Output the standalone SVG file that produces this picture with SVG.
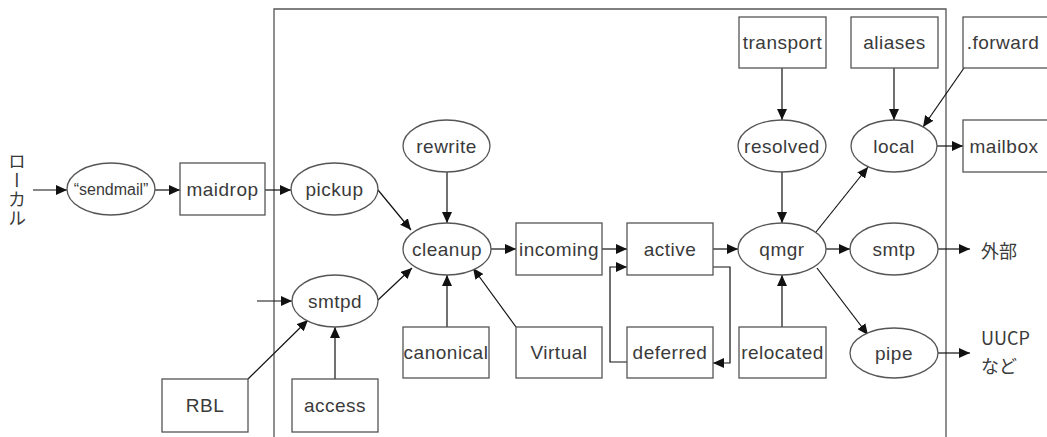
<svg xmlns="http://www.w3.org/2000/svg" width="1047" height="437" viewBox="0 0 1047 437">
<defs>
<marker id="ah" markerUnits="userSpaceOnUse" markerWidth="12" markerHeight="10" refX="11" refY="5" orient="auto">
<path d="M0,0 L11,5 L0,10 Z" fill="#111"/>
</marker>
<style>
.n rect,.n ellipse{fill:#fff;stroke:#555;stroke-width:1.3}
.t{font-family:"Liberation Sans",Arial,sans-serif;font-size:19px;fill:#3a3a3a;text-anchor:middle;letter-spacing:0.5px}
.s{font-size:16px;letter-spacing:0}
.j{font-family:"Noto Sans CJK JP",sans-serif;font-size:18px;fill:#3a3a3a}
#edges path,#edges line{stroke:#111;stroke-width:1.2;fill:none;marker-end:url(#ah)}
#frame{fill:none;stroke:#555;stroke-width:1.3}
</style>
</defs>
<rect width="1047" height="437" fill="#fff"/>
<path id="frame" d="M274,437 L274,9 L946,9 L946,437"/>

<g id="edges">
<line x1="33" y1="190" x2="67" y2="190"/>
<line x1="155" y1="190" x2="180" y2="190"/>
<line x1="265" y1="190" x2="291" y2="190"/>
<line x1="378" y1="190" x2="411" y2="230"/>
<line x1="447" y1="172" x2="447" y2="223"/>
<line x1="257" y1="301" x2="292" y2="301"/>
<line x1="378" y1="300" x2="412" y2="268"/>
<line x1="248" y1="379" x2="308" y2="320"/>
<line x1="335" y1="379" x2="335" y2="327"/>
<line x1="447" y1="327" x2="447" y2="275"/>
<line x1="516" y1="327" x2="473" y2="268"/>
<line x1="491" y1="249" x2="516" y2="249"/>
<line x1="602" y1="249" x2="627" y2="249"/>
<line x1="713" y1="249" x2="738" y2="249"/>
<path d="M713,267 L730,267 L730,363 L713,363"/>
<path d="M627,362 L610,362 L610,267 L627,267"/>
<line x1="782" y1="327" x2="782" y2="275"/>
<line x1="782" y1="68" x2="782" y2="120"/>
<line x1="782" y1="172" x2="782" y2="223"/>
<line x1="894" y1="68" x2="894" y2="120"/>
<line x1="964" y1="68" x2="923" y2="127"/>
<line x1="937" y1="146" x2="963" y2="146"/>
<line x1="816" y1="232" x2="868" y2="167"/>
<line x1="826" y1="249" x2="850" y2="249"/>
<line x1="817" y1="268" x2="868" y2="335"/>
<line x1="938" y1="249" x2="970" y2="249"/>
<line x1="938" y1="353" x2="970" y2="353"/>
</g>

<g id="local-src"><text class="j" x="17" y="152" style="writing-mode:vertical-rl;letter-spacing:1px">ローカル</text></g>
<g id="sendmail" class="n"><ellipse cx="111" cy="189" rx="44" ry="26"/><text class="t s" x="111" y="195">“sendmail”</text></g>
<g id="maidrop" class="n"><rect x="180" y="163" width="85" height="52"/><text class="t" x="222.5" y="196">maidrop</text></g>
<g id="pickup" class="n"><ellipse cx="334.5" cy="189" rx="43.5" ry="26"/><text class="t" x="334.5" y="196">pickup</text></g>
<g id="rewrite" class="n"><ellipse cx="446.5" cy="146" rx="43.5" ry="26"/><text class="t" x="446.5" y="153">rewrite</text></g>
<g id="cleanup" class="n"><ellipse cx="447" cy="249" rx="44" ry="26"/><text class="t" x="447" y="256">cleanup</text></g>
<g id="smtpd" class="n"><ellipse cx="335" cy="301" rx="43" ry="26"/><text class="t" x="335" y="308">smtpd</text></g>
<g id="RBL" class="n"><rect x="162" y="379" width="86" height="53"/><text class="t" x="205" y="412">RBL</text></g>
<g id="access" class="n"><rect x="292" y="379" width="86" height="53"/><text class="t" x="335" y="412">access</text></g>
<g id="canonical" class="n"><rect x="403" y="327" width="86" height="51"/><text class="t" x="446" y="359">canonical</text></g>
<g id="Virtual" class="n"><rect x="516" y="327" width="86" height="51"/><text class="t" x="559" y="359">Virtual</text></g>
<g id="incoming" class="n"><rect x="516" y="223" width="86" height="52"/><text class="t" x="559" y="256">incoming</text></g>
<g id="active" class="n"><rect x="627" y="223" width="86" height="52"/><text class="t" x="670" y="256">active</text></g>
<g id="deferred" class="n"><rect x="627" y="327" width="86" height="51"/><text class="t" x="670" y="359">deferred</text></g>
<g id="relocated" class="n"><rect x="739" y="327" width="87" height="51"/><text class="t" x="782.5" y="359">relocated</text></g>
<g id="qmgr" class="n"><ellipse cx="782" cy="249" rx="44" ry="26"/><text class="t" x="782" y="256">qmgr</text></g>
<g id="resolved" class="n"><ellipse cx="782" cy="146" rx="44" ry="26"/><text class="t" x="782" y="153">resolved</text></g>
<g id="transport" class="n"><rect x="739" y="17" width="87" height="51"/><text class="t" x="782.5" y="49">transport</text></g>
<g id="aliases" class="n"><rect x="851" y="17" width="87" height="51"/><text class="t" x="894.5" y="49">aliases</text></g>
<g id="forward" class="n"><rect x="963" y="17" width="90" height="51"/><text class="t" x="1003" y="49">.forward</text></g>
<g id="local" class="n"><ellipse cx="894" cy="146" rx="43" ry="26"/><text class="t" x="894" y="153">local</text></g>
<g id="mailbox" class="n"><rect x="963" y="120" width="90" height="52"/><text class="t" x="1004" y="153">mailbox</text></g>
<g id="smtp" class="n"><ellipse cx="894" cy="249" rx="44" ry="26"/><text class="t" x="894" y="256">smtp</text></g>
<g id="pipe" class="n"><ellipse cx="894" cy="353" rx="44" ry="25"/><text class="t" x="894" y="360">pipe</text></g>
<g id="external"><text class="j" x="981" y="258">外部</text></g>
<g id="uucp"><text class="j" x="981" y="345">UUCP</text><text class="j" x="981" y="373">など</text></g>
</svg>
